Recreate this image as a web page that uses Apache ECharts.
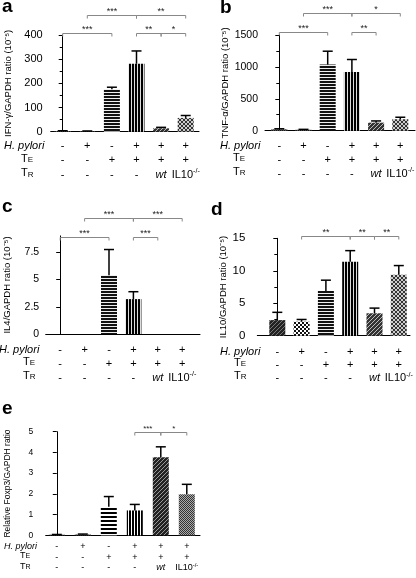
<!DOCTYPE html>
<html><head><meta charset="utf-8">
<script src="https://cdn.jsdelivr.net/npm/echarts@6/dist/echarts.min.js"></script>
<style>html,body{margin:0;padding:0;background:#fff}#c{width:416px;height:578px}</style>
</head><body><div id="c"></div><script>
// ---- data ----
const hPylori = ['-', '+', '-', '+', '+', '+'];
const tE = ['-', '-', '+', '+', '+', '+'];
const tR = ['-', '-', '-', '-', 'wt', 'IL10-/-'];

const ifnMean = [3, 2, 176, 281, 14, 57];
const ifnErr = [1, 1, 8, 53, 4, 10];
const ifnSig = [[0, 2, 408, '***'], [1, 3, 482, '***'], [3, 5, 482, '**'], [3, 4, 408, '**'], [4, 5, 408, '*']];

const tnfMean = [22, 15, 1036, 921, 126, 180];
const tnfErr = [8, 6, 210, 195, 27, 31];
const tnfSig = [[0, 2, 1552, '***'], [1, 3, 1841, '***'], [3, 5, 1841, '*'], [3, 4, 1552, '**']];

const il4Mean = [0, 0, 5.4, 3.2, 0, 0];
const il4Err = [0, 0, 2.35, 0.68, 0, 0];
const il4Sig = [[0, 2, 8.93, '***'], [1, 3, 10.67, '***'], [3, 5, 10.67, '***'], [3, 4, 8.93, '***']];

const il10Mean = [2.4, 2.15, 6.9, 11.4, 3.45, 9.4];
const il10Err = [1.2, 0.35, 1.65, 1.7, 0.8, 1.4];
const il10Sig = [[1, 3, 15.3, '**'], [3, 4, 15.3, '**'], [4, 5, 15.3, '**']];

const foxMean = [0.03, 0.04, 1.38, 1.2, 3.77, 1.98];
const foxErr = [0.01, 0.02, 0.49, 0.29, 0.5, 0.48];
const foxSig = [[3, 4, 5.0, '***'], [4, 5, 5.0, '*']];

// ---- patterns ----
function pat(rows, dark, light) {
  const h = rows.length, w = rows[0].length;
  const c = document.createElement('canvas'); c.width = w; c.height = h;
  const ctx = c.getContext('2d');
  for (let y = 0; y < h; y++) for (let x = 0; x < w; x++) {
    ctx.fillStyle = rows[y][x] === '1' ? dark : light; ctx.fillRect(x, y, 1, 1);
  }
  return { image: c, repeat: 'repeat' };
}
const P = {
  dark: pat(['10', '01'], '#222', '#777'),
  hFine: pat(['1', '1', '0'], '#111', '#eee'),
  vFine: pat(['110'], '#000', '#ddd'),
  cross: pat(['1101', '1011', '0111', '1110'], '#333', '#bbb'),
  diag: pat(['1001', '0110', '0110', '1001'], '#333', '#ccc'),
  weave: pat(['1101', '1011', '0111', '1110'], '#222', '#777'),
  checker: pat(['1100', '1100', '0011', '0011'], '#111', '#fff'),
  hCoarse: pat(['1', '1', '0', '0'], '#000', '#fff'),
  vCoarse: pat(['110'], '#000', '#fff'),
  eDiag: pat(['1101', '1011', '0111', '1110'], '#222', '#999'),
  eCheck: pat(['10', '01'], '#333', '#aaa')
};

const FONT = 'Liberation Sans, Arial, sans-serif';

const panels = [
  { letter: 'a', lx: 2, ly: 7, mean: ifnMean, err: ifnErr, sig: ifnSig, name: 'IFN-γ/GAPDH ratio (10⁻⁵)',
    x0: 50.7, x1: 199, c0: 62.7, step: 24.6, top: 35, bottom: 131.7, ymax: 400, interval: 100, minor: true,
    yMargin: 8, nameGap: 37, yFont: 11, xMargin: 7, lh: 14.5, xFont: 11, hdr: [[4, 146], [21, 160.5], [21, 175]],
    pats: ['dark', 'dark', 'hFine', 'vFine', 'cross', 'diag'], starFont: 9 },
  { letter: 'b', lx: 220, ly: 8, mean: tnfMean, err: tnfErr, sig: tnfSig, name: 'TNF-α/GAPDH ratio (10⁻⁵)',
    x0: 265, x1: 415, c0: 279.3, step: 24.2, top: 35, bottom: 130.7, ymax: 1500, interval: 500, minor: true,
    yMargin: 7, nameGap: 33, yFont: 10.5, xMargin: 8, lh: 14, xFont: 11, hdr: [[220, 145.7], [233, 159.7], [233, 173.7]],
    pats: ['dark', 'dark', 'hFine', 'vFine', 'cross', 'diag'], starFont: 9 },
  { letter: 'c', lx: 2, ly: 207, mean: il4Mean, err: il4Err, sig: il4Sig, name: 'IL4/GAPDH ratio (10⁻⁵)',
    x0: 45.7, x1: 200, c0: 60.2, step: 24.4, top: 235.9, bottom: 334, ymax: 9, interval: 2.5, minor: false,
    yLabels: [0, 2.5, 5, 7.5],
    yMargin: 6.5, nameGap: 33, yFont: 10.5, xMargin: 9, lh: 13.8, xFont: 11, hdr: [[-1, 350], [23, 363.8], [23, 377.6]],
    pats: ['dark', 'dark', 'hFine', 'vFine', 'cross', 'diag'], starFont: 9 },
  { letter: 'd', lx: 211, ly: 210, mean: il10Mean, err: il10Err, sig: il10Sig, name: 'IL10/GAPDH ratio (10⁻⁵)',
    x0: 257.3, x1: 410, c0: 277.3, step: 24.3, top: 238.3, bottom: 335.7, ymax: 15, interval: 5, minor: true,
    yMargin: 12, nameGap: 21, yFont: 11.5, xMargin: 9.5, lh: 13, xFont: 11, hdr: [[220, 351.7], [234, 364.7], [234, 377.7]],
    pats: ['weave', 'checker', 'hFine', 'vFine', 'cross', 'diag'], starFont: 9 },
  { letter: 'e', lx: 2, ly: 409, mean: foxMean, err: foxErr, sig: foxSig, name: 'Relative Foxp3/GAPDH ratio',
    x0: 45.7, x1: 200, c0: 56.8, step: 26, top: 431.7, bottom: 535.3, ymax: 5, interval: 1, minor: false,
    yMargin: 12.5, nameGap: 34, yFont: 8.5, xMargin: 6, lh: 10.5, xFont: 9, hdr: [[4, 546.7], [20, 557.2], [20, 567.7]],
    pats: ['dark', 'dark', 'hCoarse', 'vCoarse', 'eDiag', 'eCheck'], starFont: 8, nameFont: 8.5 }
];

const grid = [], xAxis = [], yAxis = [], series = [], graphic = [];

panels.forEach((p, k) => {
  grid.push({ left: p.x0, top: p.top, width: p.x1 - p.x0, height: p.bottom - p.top, containLabel: false, outerBoundsMode: 'none' });
  const xf = p.xFont;
  xAxis.push({
    type: 'value', gridIndex: k,
    min: (p.x0 - p.c0) / p.step, max: (p.x1 - p.c0) / p.step,
    axisLine: { show: true, onZero: false, lineStyle: { color: '#000', width: 1 } },
    axisTick: { show: false }, splitLine: { show: false },
    axisLabel: {
      customValues: [0, 1, 2, 3, 4, 5], margin: p.xMargin, color: '#000', fontFamily: FONT,
      formatter: function (v) {
        const i = Math.round(v);
        let tr;
        if (tR[i] === 'wt') tr = '{i|wt}';
        else if (tR[i] === 'IL10-/-') tr = '{n|IL10}{s|-/-}';
        else tr = '{n|' + tR[i] + '}';
        return '{n|' + hPylori[i] + '}\n{n|' + tE[i] + '}\n' + tr;
      },
      rich: {
        n: { fontSize: xf, lineHeight: p.lh, fontFamily: FONT, color: '#000' },
        i: { fontSize: xf, lineHeight: p.lh, fontStyle: 'italic', fontFamily: FONT, color: '#000' },
        s: { fontSize: xf * 0.65, lineHeight: p.lh, verticalAlign: 'top', fontFamily: FONT, color: '#000' }
      }
    }
  });
  const y = {
    type: 'value', gridIndex: k, min: 0, max: p.ymax, interval: p.interval,
    axisLine: { show: true, lineStyle: { color: '#000', width: 1 } },
    axisTick: { show: true, length: 4, lineStyle: { color: '#000' } },
    minorTick: { show: p.minor, splitNumber: 2, length: 3, lineStyle: { color: '#000' } },
    splitLine: { show: false },
    axisLabel: { fontSize: p.yFont, color: '#000', margin: p.yMargin, fontFamily: FONT, formatter: v => String(v) },
    name: p.name, nameLocation: 'middle', nameGap: p.nameGap,
    nameTextStyle: { fontSize: p.nameFont || 9.5, color: '#000', fontFamily: FONT }
  };
  if (p.yLabels) {
    y.axisLabel.customValues = p.yLabels;
    y.axisTick.customValues = p.yLabels;
  }
  yAxis.push(y);

  series.push({
    type: 'bar', xAxisIndex: k, yAxisIndex: k, barWidth: 16, silent: true,
    data: p.mean.map((v, i) => ({ value: [i, v], itemStyle: { color: P[p.pats[i]] } }))
  });
  const err = p.err;
  series.push({
    type: 'custom', xAxisIndex: k, yAxisIndex: k, clip: false, silent: true, z: 3,
    data: p.mean.map((v, i) => [i, v, err[i]]),
    encode: { x: 0, y: 1 },
    renderItem: function (params, api) {
      const i = api.value(0), v = api.value(1), e = api.value(2);
      if (!e) return null;
      const a = api.coord([i, v]), b = api.coord([i, v + e]);
      return { type: 'group', children: [
        { type: 'line', shape: { x1: a[0], y1: a[1], x2: b[0], y2: b[1] }, style: { stroke: '#000', lineWidth: 1.5 } },
        { type: 'line', shape: { x1: b[0] - 5, y1: b[1], x2: b[0] + 5, y2: b[1] }, style: { stroke: '#000', lineWidth: 1.5 } }
      ] };
    }
  });
  const sig = p.sig, sf = p.starFont;
  series.push({
    type: 'custom', xAxisIndex: k, yAxisIndex: k, clip: false, silent: true, z: 3,
    data: sig.map(s => [s[0], s[1], s[2]]),
    encode: { x: [0, 1], y: 2 },
    renderItem: function (params, api) {
      const s = sig[params.dataIndex];
      const a = api.coord([s[0], s[2]]), b = api.coord([s[1], s[2]]);
      const yy = Math.round(a[1]) + 0.5;
      return { type: 'group', children: [
        { type: 'polyline', shape: { points: [[a[0], yy + 3], [a[0], yy], [b[0], yy], [b[0], yy + 3]] },
          style: { stroke: '#888', fill: null, lineWidth: 1 } },
        { type: 'text', style: { text: s[3], x: (a[0] + b[0]) / 2, y: yy - 4, align: 'center', verticalAlign: 'middle',
          fontSize: sf, fill: '#222', fontFamily: FONT } }
      ] };
    }
  });

  // panel letter
  graphic.push({ type: 'text', x: p.lx, y: p.ly, style: { text: p.letter, font: 'bold 19px ' + FONT, fill: '#000', verticalAlign: 'middle' } });
  // row headers
  const hf = p.xFont, sm = Math.round(hf * 0.75);
  graphic.push({ type: 'text', x: p.hdr[0][0], y: p.hdr[0][1], style: { text: 'H. pylori', font: 'italic ' + hf + 'px ' + FONT, fill: '#000', verticalAlign: 'middle' } });
  [[1, 'E'], [2, 'R']].forEach(([r, ch]) => {
    const hx = p.hdr[r][0], base = p.hdr[r][1] + hf * 0.36;
    graphic.push({ type: 'text', x: hx, y: base, style: { text: 'T', font: hf + 'px ' + FONT, fill: '#000', verticalAlign: 'bottom' } });
    graphic.push({ type: 'text', x: hx + hf * 0.62, y: base - (hf - sm) * 0.2, style: { text: ch, font: sm + 'px ' + FONT, fill: '#000', verticalAlign: 'bottom' } });
  });
});

const chart = echarts.init(document.getElementById('c'), null, { renderer: 'canvas' });
chart.setOption({ animation: false, backgroundColor: '#fff', grid, xAxis, yAxis, series, graphic });
</script></body></html>
